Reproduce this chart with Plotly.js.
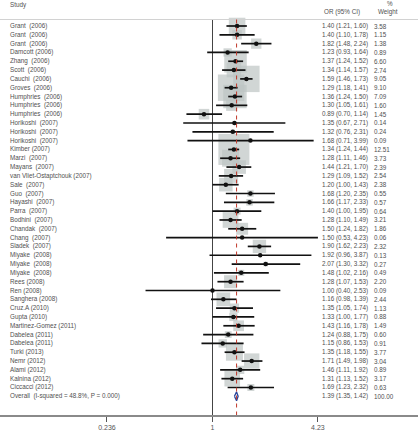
<!DOCTYPE html>
<html><head><meta charset="utf-8">
<script src="https://cdn.plot.ly/plotly-3.0.1.min.js"></script>
<style>html,body{margin:0;padding:0;background:#fff}#chart{width:418px;height:438px}</style>
</head><body><div id="chart"></div>
<script>
const S = "\u00a0 ";
const studies = [
 "Grant"+S+"(2006)","Grant"+S+"(2006)","Grant"+S+"(2006)","Damcott (2006)","Zhang"+S+"(2006)",
 "Scott"+S+"(2006)","Cauchi"+S+"(2006)","Groves"+S+"(2006)","Humphries"+S+"(2006)","Humphries"+S+"(2006)",
 "Humphries"+S+"(2006)","Horikoshi"+S+"(2007)","Horikoshi"+S+"(2007)","Horikoshi"+S+"(2007)","Kimber (2007)",
 "Marzi"+S+"(2007)","Mayans"+S+"(2007)","van Vliet-Ostaptchouk (2007)","Sale"+S+"(2007)","Guo"+S+"(2007)",
 "Hayashi"+S+"(2007)","Parra"+S+"(2007)","Bodhini"+S+"(2007)","Chandak"+S+"(2007)","Chang"+S+"(2007)",
 "Sladek"+S+"(2007)","Miyake"+S+"(2008)","Miyake"+S+"(2008)","Miyake"+S+"(2008)","Rees (2008)",
 "Ren (2008)","Sanghera (2008)","Cruz.A (2010)","Gupta (2010)","Martinez-Gomez (2011)",
 "Dabelea (2011)","Dabelea (2011)","Turki (2013)","Nemr (2012)","Alami (2012)",
 "Kalnina (2012)","Ciccacci (2012)"
];
const orv = [1.40,1.40,1.82,1.23,1.37,1.34,1.59,1.29,1.36,1.30,0.89,1.35,1.32,1.68,1.34,1.28,1.44,1.29,1.20,1.68,1.66,1.40,1.28,1.50,1.50,1.90,1.92,2.07,1.48,1.28,1.00,1.16,1.35,1.33,1.43,1.24,1.15,1.35,1.71,1.46,1.31,1.69];
const lo  = [1.21,1.10,1.48,0.93,1.24,1.14,1.46,1.18,1.24,1.05,0.70,0.67,0.76,0.71,1.24,1.11,1.21,1.09,1.00,1.20,1.17,1.00,1.10,1.24,0.53,1.62,0.96,1.30,1.02,1.07,0.40,0.98,1.05,1.00,1.16,0.88,0.86,1.18,1.49,1.11,1.13,1.23];
const hi  = [1.60,1.78,2.24,1.64,1.52,1.57,1.73,1.41,1.50,1.61,1.14,2.71,2.31,3.99,1.44,1.46,1.70,1.52,1.43,2.35,2.33,1.95,1.49,1.82,4.23,2.23,3.87,3.32,2.16,1.53,2.53,1.39,1.74,1.77,1.78,1.75,1.53,1.55,1.98,1.92,1.52,2.32];
const weights = [3.58,1.15,1.38,0.89,6.60,2.74,9.05,9.10,7.09,1.60,1.45,0.14,0.24,0.09,12.51,3.73,2.39,2.54,2.38,0.55,0.57,0.64,3.21,1.86,0.06,2.32,0.13,0.27,0.49,2.20,0.09,2.44,1.13,0.88,1.49,0.60,0.91,3.77,3.04,0.89,3.17,0.63];
const overallLabel = "Overall"+S+"(I-squared = 48.8%, P = 0.000)";
const overallOR = 1.39, overallLo = 1.35, overallHi = 1.42, overallW = 100.00;
const tickVals = [0.236, 1, 4.23];
const tickText = ["0.236", "1", "4.23"];

const rows = studies.map((_, i) => i);
const overallRow = studies.length;
const fmt = v => v.toFixed(2);

const ciX = [], ciY = [];
rows.forEach(i => { ciX.push(lo[i], hi[i], null); ciY.push(i, i, null); });

const traces = [
  {type:'scatter', mode:'markers', x: orv, y: rows, hoverinfo:'skip',
   marker:{symbol:'square', size: weights.map(w => 8.77*Math.sqrt(w)), color:'#bec5c3', line:{width:0}}},
  {type:'scatter', mode:'lines', x: ciX, y: ciY, hoverinfo:'skip', line:{color:'#111', width:1.7}},
  {type:'scatter', mode:'markers', x: orv, y: rows, hoverinfo:'skip',
   marker:{symbol:'circle', size:4.5, color:'#111'}},
  {type:'scatter', mode:'lines', fill:'toself', fillcolor:'#ffffff', hoverinfo:'skip',
   x:[overallLo, overallOR, overallHi, overallOR, overallLo],
   y:[overallRow, overallRow-0.5, overallRow, overallRow+0.5, overallRow],
   line:{color:'#27439a', width:1.3}}
];

const topY = -0.737, botY = 44.12;
const font = {family:'Liberation Sans, Arial, sans-serif', size:6.3, color:'#505050'};
const ann = [];
const addText = (txt, xpx, y, yref) => ann.push({text: txt, x: xpx/418, xref:'paper', y: y, yref: yref||'y',
  xanchor:'left', yanchor:'middle', showarrow:false, font: font});
rows.forEach(i => {
  addText(studies[i], 8, i);
  addText(fmt(orv[i]) + " (" + fmt(lo[i]) + ", " + fmt(hi[i]) + ")", 320, i);
  addText(fmt(weights[i]), 372, i);
});
addText(overallLabel, 8, overallRow);
addText(fmt(overallOR) + " (" + fmt(overallLo) + ", " + fmt(overallHi) + ")", 320, overallRow);
addText(fmt(overallW), 372, overallRow);
addText("Study", 8, 1 - 5/415, 'paper');
addText("OR (95% CI)", 322, 1 - 12/415, 'paper');
addText("Weight", 376, 1 - 12/415, 'paper');
addText("%", 385, 1 - 4/415, 'paper');

const layout = {
  width:418, height:438, margin:{l:0, r:0, t:0, b:23},
  paper_bgcolor:'#fff', plot_bgcolor:'#fff', showlegend:false,
  xaxis:{type:'log', range:[-1.2626, 1.2210], tickvals: tickVals, ticktext: tickText,
    ticks:'outside', ticklen:5, tickcolor:'#555', tickwidth:1, showline:true, linecolor:'#8a8a8a', linewidth:1.5,
    showgrid:false, zeroline:false, tickfont:{family:'Liberation Sans, Arial, sans-serif', size:7, color:'#555'}},
  yaxis:{range:[botY, -2.949], visible:false, showgrid:false, zeroline:false},
  annotations: ann,
  shapes:[
    {type:'line', xref:'paper', x0:0, x1:1, yref:'y', y0:topY, y1:topY, line:{color:'#d2d2d2', width:1}},
    {type:'line', xref:'x', x0:1, x1:1, yref:'y', y0:topY, y1:botY, line:{color:'#444', width:1}, layer:'below'},
    {type:'line', xref:'x', x0:overallOR, x1:overallOR, yref:'y', y0:topY, y1:botY,
     line:{color:'#c0392b', width:1, dash:'4px,4px'}}
  ]
};
Plotly.newPlot('chart', traces, layout, {displayModeBar:false, staticPlot:true});
</script></body></html>
